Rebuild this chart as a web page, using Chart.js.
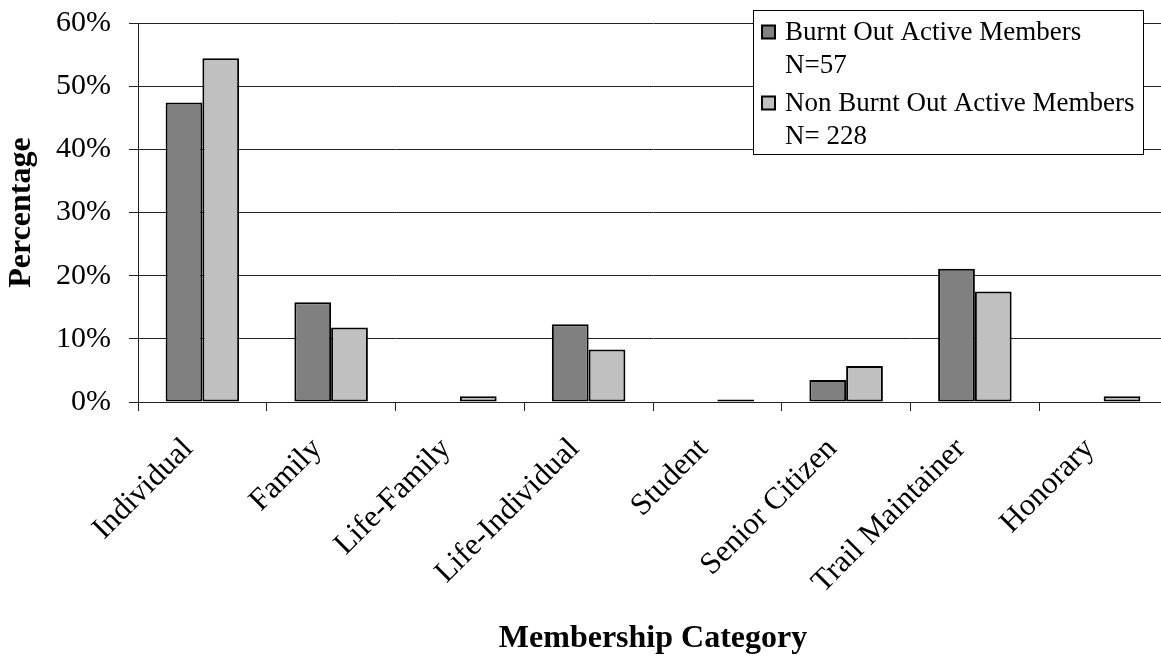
<!DOCTYPE html>
<html>
<head>
<meta charset="utf-8">
<script src="https://cdn.jsdelivr.net/npm/chart.js@4.4.1/dist/chart.umd.min.js"></script>
<style>
  html, body { margin: 0; padding: 0; background: #fff; overflow: hidden; }
  #wrap { position: relative; width: 1172px; height: 660px; }
</style>
</head>
<body>
<div id="wrap"><canvas id="chart"></canvas></div>
<script>
const categories = ['Individual', 'Family', 'Life-Family', 'Life-Individual', 'Student', 'Senior Citizen', 'Trail Maintainer', 'Honorary'];
const burntOut = [47.4, 15.8, 0, 12.3, 0, 3.5, 21.1, 0];
const nonBurntOut = [54.4, 11.8, 0.9, 8.3, 0.4, 5.7, 17.5, 0.9];
const yTicks = [0, 10, 20, 30, 40, 50, 60];
const burntLines = ['Burnt Out Active Members', 'N=57'];
const nonBurntLines = ['Non Burnt Out Active Members', 'N= 228'];

const SERIF = '"Liberation Serif", "Times New Roman", serif';
const AXIS = '#222';

// boxed two-line legend in the top right corner
const boxLegend = {
  id: 'boxLegend',
  afterDraw(chart) {
    const ctx = chart.ctx;
    const box = { x: 753.5, y: 10.5, w: 390, h: 144 };
    ctx.save();
    ctx.fillStyle = '#fff';
    ctx.fillRect(box.x, box.y, box.w, box.h);
    ctx.strokeStyle = '#000';
    ctx.lineWidth = 1;
    ctx.strokeRect(box.x, box.y, box.w, box.h);
    ctx.font = '27px ' + SERIF;
    ctx.textBaseline = 'alphabetic';
    ctx.textAlign = 'left';
    chart.data.datasets.forEach((ds, i) => {
      const top = box.y + 15 + i * 71;
      ctx.fillStyle = ds.backgroundColor;
      ctx.fillRect(762, top, 13, 13);
      ctx.lineWidth = 2;
      ctx.strokeStyle = '#000';
      ctx.strokeRect(762, top, 13, 13);
      ctx.fillStyle = '#000';
      ds.legendLines.forEach((line, j) => {
        ctx.fillText(line, 785, top + 14 + j * 33);
      });
    });
    ctx.restore();
  }
};

new Chart(document.getElementById('chart'), {
  type: 'bar',
  data: {
    labels: categories,
    datasets: [
      { label: burntLines.join(' '), legendLines: burntLines, data: burntOut, backgroundColor: '#808080', borderColor: '#000', borderWidth: 2, borderSkipped: false },
      { label: nonBurntLines.join(' '), legendLines: nonBurntLines, data: nonBurntOut, backgroundColor: '#c0c0c0', borderColor: '#000', borderWidth: 2, borderSkipped: false }
    ]
  },
  options: {
    responsive: true, maintainAspectRatio: false, animation: false,
    layout: { padding: { top: 23, right: 4, left: 0, bottom: 0 } },
    datasets: { bar: { categoryPercentage: 0.571, barPercentage: 1 } },
    plugins: { legend: { display: false }, tooltip: { enabled: false } },
    scales: {
      x: {
        afterFit: s => { s.height = 258; },
        grid: { display: true, drawOnChartArea: false, offset: true, tickLength: 9, color: AXIS, tickColor: AXIS },
        border: { display: true, color: AXIS, width: 1 },
        ticks: { color: '#000', font: { family: SERIF, size: 31 }, minRotation: 45, maxRotation: 45, padding: 20, labelOffset: -14 },
        title: { display: true, text: 'Membership Category', color: '#000', font: { family: SERIF, size: 32, weight: 'bold' }, padding: { top: 0, bottom: 2 } }
      },
      y: {
        min: 0, max: 60,
        afterFit: s => { s.width = 138; s.paddingTop = 0; s.paddingBottom = 0; },
        afterBuildTicks: s => { s.ticks = yTicks.map(v => ({ value: v })); },
        grid: { color: AXIS, tickColor: AXIS, tickLength: 9, lineWidth: 1 },
        border: { display: true, color: AXIS, width: 1 },
        ticks: { color: '#000', font: { family: SERIF, size: 30 }, padding: 18, callback: v => v + '%' },
        title: { display: true, text: 'Percentage', color: '#000', font: { family: SERIF, size: 32, weight: 'bold' }, padding: { top: 3, bottom: 0 } }
      }
    }
  },
  plugins: [boxLegend]
});
</script>
</body>
</html>
